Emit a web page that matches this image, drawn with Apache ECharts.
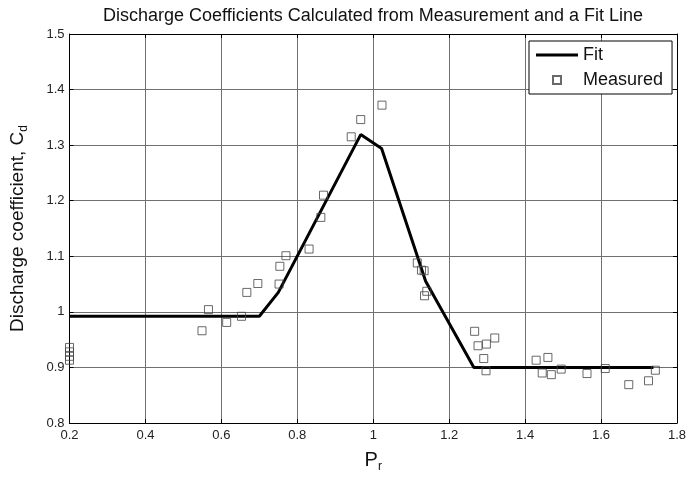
<!DOCTYPE html>
<html>
<head>
<meta charset="utf-8">
<script src="https://cdn.jsdelivr.net/npm/echarts@6/dist/echarts.min.js"></script>
<style>
  html, body { margin: 0; padding: 0; background: #fff; }
  #chart { width: 694px; height: 478px; }
</style>
</head>
<body>
<div id="chart"></div>
<script>
// Piecewise-linear fit of the discharge coefficient against pressure ratio
const fitPr = [0.2, 0.70, 0.75, 0.967, 1.022, 1.138, 1.265, 1.738];
const fitCd = [0.992, 0.992, 1.035, 1.319, 1.294, 1.055, 0.900, 0.900];

// Measured discharge coefficients
const measPr = [
  0.2, 0.2, 0.2, 0.2,
  0.549, 0.566, 0.614, 0.653, 0.667, 0.696, 0.752, 0.754, 0.770,
  0.831, 0.862, 0.869, 0.942, 0.967, 1.023,
  1.116, 1.127, 1.134, 1.141, 1.135,
  1.267, 1.276, 1.298, 1.320, 1.291, 1.297,
  1.429, 1.460, 1.445, 1.469, 1.495, 1.563, 1.611, 1.673, 1.725, 1.743
];
const measCd = [
  0.936, 0.928, 0.920, 0.913,
  0.966, 1.004, 0.981, 0.992, 1.035, 1.051, 1.050, 1.082, 1.101,
  1.113, 1.170, 1.210, 1.315, 1.346, 1.372,
  1.088, 1.075, 1.074, 1.037, 1.029,
  0.965, 0.939, 0.942, 0.953, 0.916, 0.894,
  0.913, 0.918, 0.890, 0.887, 0.897, 0.889, 0.898, 0.869, 0.876, 0.895
];

const xTicks = [0.2, 0.4, 0.6, 0.8, 1, 1.2, 1.4, 1.6, 1.8];
const yTicks = [0.8, 0.9, 1, 1.1, 1.2, 1.3, 1.4, 1.5];

const FONT = 'Liberation Sans, Arial, Helvetica, sans-serif';

const fmt = v => String(Math.round(v * 10) / 10);

const chart = echarts.init(document.getElementById('chart'));

const gridLine = { show: true, lineStyle: { color: '#707070', width: 1 } };
const frameLine = { show: true, onZero: false, lineStyle: { color: '#000', width: 1 } };
const innerTick = { show: true, inside: true, length: 4, lineStyle: { color: '#000' } };

chart.setOption({
  animation: false,
  backgroundColor: '#fff',
  title: {
    text: 'Discharge Coefficients Calculated from Measurement and a Fit Line',
    left: 368, top: 2, textAlign: 'center',
    textStyle: { fontFamily: FONT, fontSize: 18, fontWeight: 'normal', color: '#111' }
  },
  grid: { left: 68, right: 17, top: 34, bottom: 47, containLabel: false },
  legend: {
    left: 529, top: 41,
    orient: 'vertical',
    backgroundColor: '#fff',
    borderColor: '#000', borderWidth: 1,
    padding: [3, 9, 3, 7],
    itemGap: 3,
    itemWidth: 42, itemHeight: 8,
    textStyle: { fontFamily: FONT, fontSize: 18, color: '#111', lineHeight: 22 },
    data: [
      { name: 'Fit', icon: 'path://M0,0H42V3H0Z' },
      { name: 'Measured', icon: 'path://M0,0H10V10H0Z' }
    ]
  },
  xAxis: [{
    type: 'value', min: 0.2, max: 1.8, interval: 0.2,
    position: 'bottom',
    axisLine: frameLine, axisTick: innerTick, splitLine: gridLine,
    axisLabel: { fontFamily: FONT, fontSize: 13, color: '#222', margin: 6,
      formatter: v => xTicks.some(t => Math.abs(t - v) < 1e-6) ? fmt(v) : '' },
    name: 'P{sub|r}', nameLocation: 'middle', nameGap: 24,
    nameTextStyle: { fontFamily: FONT, fontSize: 20, color: '#111',
      rich: { sub: { fontFamily: FONT, fontSize: 12, color: '#111', padding: [14, 0, 0, 0] } } }
  }, {
    type: 'value', min: 0.2, max: 1.8, interval: 0.2,
    position: 'top',
    axisLine: frameLine, axisTick: innerTick, splitLine: { show: false },
    axisLabel: { show: false }
  }],
  yAxis: [{
    type: 'value', min: 0.8, max: 1.5, interval: 0.1,
    position: 'left',
    axisLine: frameLine, axisTick: innerTick, splitLine: gridLine,
    axisLabel: { fontFamily: FONT, fontSize: 13, color: '#222', margin: 5,
      formatter: v => yTicks.some(t => Math.abs(t - v) < 1e-6) ? fmt(v) : '' },
    name: 'Discharge coefficient, C{sub|d}', nameLocation: 'middle', nameGap: 40,
    nameTextStyle: { fontFamily: FONT, fontSize: 19, color: '#111',
      rich: { sub: { fontFamily: FONT, fontSize: 12, color: '#111', padding: [12, 0, 0, 0] } } }
  }, {
    type: 'value', min: 0.8, max: 1.5, interval: 0.1,
    position: 'right',
    axisLine: frameLine, axisTick: innerTick, splitLine: { show: false },
    axisLabel: { show: false }
  }],
  series: [{
    name: 'Fit',
    type: 'line',
    data: fitPr.map((x, i) => [x, fitCd[i]]),
    symbol: 'none',
    lineStyle: { color: '#000', width: 3 },
    itemStyle: { color: '#000' },
    z: 3
  }, {
    name: 'Measured',
    type: 'scatter',
    data: measPr.map((x, i) => [x, measCd[i]]),
    symbol: 'rect',
    symbolSize: 8,
    itemStyle: { color: 'rgba(255,255,255,0)', borderColor: '#444', borderWidth: 1 },
    z: 4
  }]
});
</script>
</body>
</html>
